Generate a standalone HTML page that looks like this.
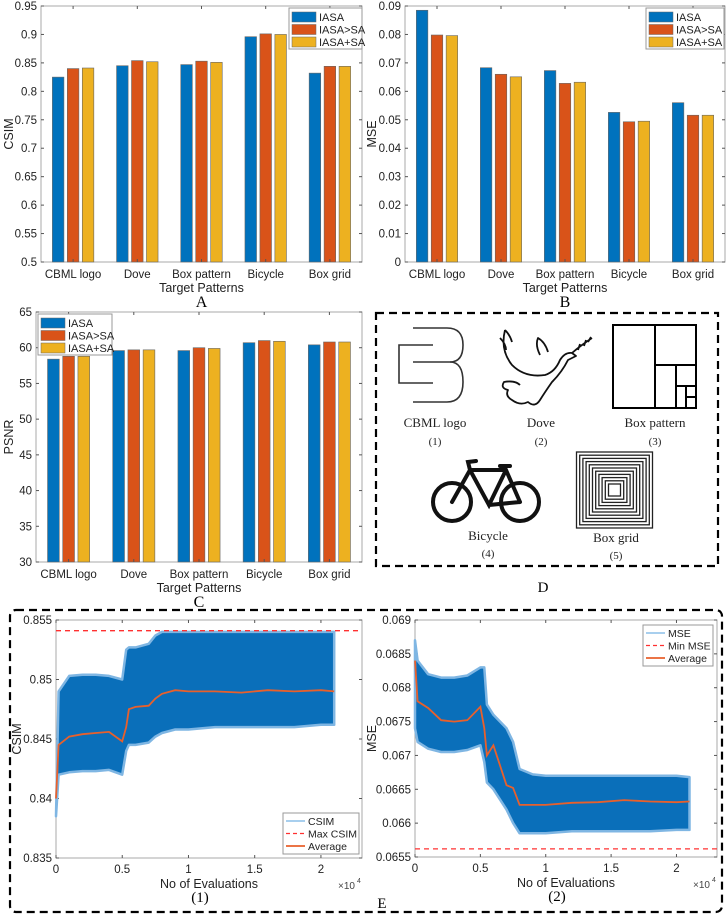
<!DOCTYPE html>
<html><head><meta charset="utf-8">
<style>
body{margin:0;background:#fff;}
svg{display:block;font-family:"Liberation Sans",sans-serif;}
.serif{font-family:"Liberation Serif",serif;}
</style></head>
<body>
<svg id="fig" width="726" height="916" viewBox="0 0 726 916" xmlns="http://www.w3.org/2000/svg">
<g id="pA"></g>
<g id="pB"></g>
<g id="pC"></g>
<g id="pD">
  <rect x="376" y="313" width="342" height="253" fill="none" stroke="#000" stroke-width="2.2" stroke-dasharray="8,5"/>
  <g fill="none" stroke="#333" stroke-width="1.6">
    <path d="M413,328 H447 Q463,328 463,345 Q463,362 450,362 H413"/>
    <path d="M450,362 Q463,362 463,382 Q463,402 447,402 H413"/>
    <path d="M433,345 H399 V383 H433"/>
  </g>
  <g fill="none" stroke="#111" stroke-width="1.8" stroke-linejoin="round">
    <path d="M505,330 Q500,350 512,365 Q525,378 545,375 Q555,372 560,360 Q565,352 572,353 L576,356 L568,360 Q562,372 552,382 Q545,392 540,400 Q535,408 528,402 Q520,406 512,400 Q505,396 508,390 Q500,388 504,382 Q515,380 520,385"/>
    <path d="M505,330 Q510,335 512,342 M500,338 Q506,344 506,350 M540,355 Q535,345 538,338 Q545,342 548,352"/>
    <path d="M572,353 Q580,346 592,338 M578,350 L580,344 M584,346 L586,340 M588,342 L591,337"/>
  </g>
  <g fill="none" stroke="#000" stroke-width="2">
    <rect x="613" y="325" width="83" height="83"/>
    <line x1="655" y1="325" x2="655" y2="408"/>
    <line x1="655" y1="365" x2="696" y2="365"/>
    <line x1="676" y1="365" x2="676" y2="408"/>
    <line x1="676" y1="386" x2="696" y2="386"/>
    <line x1="686" y1="386" x2="686" y2="408"/>
    <line x1="686" y1="397" x2="696" y2="397"/>
  </g>
  <g fill="none" stroke="#111" stroke-width="4" stroke-linecap="round">
    <circle cx="452" cy="502" r="19"/>
    <circle cx="520" cy="502" r="19"/>
    <path d="M452,502 L470,470 L506,470 L520,502 M470,470 L489,505 L506,470 M489,505 L520,502 M470,470 L468,462 L476,461 M500,466 L510,466"/>
  </g>
  <g id="boxgrid" fill="none" stroke="#222" stroke-width="1.3"></g>
  <g class="serif" font-size="13" text-anchor="middle" fill="#222">
    <text x="435" y="427">CBML logo</text>
    <text x="435" y="445" font-size="11">(1)</text>
    <text x="541" y="427">Dove</text>
    <text x="541" y="445" font-size="11">(2)</text>
    <text x="655" y="427">Box pattern</text>
    <text x="655" y="445" font-size="11">(3)</text>
    <text x="488" y="540">Bicycle</text>
    <text x="488" y="557" font-size="11">(4)</text>
    <text x="616" y="542">Box grid</text>
    <text x="616" y="559" font-size="11">(5)</text>
  </g>
  <text x="543" y="592" class="serif" font-size="15" text-anchor="middle">D</text>
</g>
<g id="pE">
  <rect x="10" y="610" width="712" height="302" rx="6" fill="none" stroke="#000" stroke-width="2.2" stroke-dasharray="8,5"/>
  <text x="382" y="908" class="serif" font-size="15" text-anchor="middle">E</text>
</g>
<g id="pE1"></g>
<g id="pE2"></g>
</svg>
<script>
const NS='http://www.w3.org/2000/svg';
function mk(parent,tag,attrs,text){const e=document.createElementNS(NS,tag);for(const k in attrs)e.setAttribute(k,attrs[k]);if(text!==undefined)e.textContent=text;parent.appendChild(e);return e;}

// ---------- Bar chart data ----------
const categories=['CBML logo','Dove','Box pattern','Bicycle','Box grid'];
const seriesNames=['IASA','IASA>SA','IASA+SA'];
const csimIASA=[0.825,0.845,0.847,0.896,0.832];
const csimIASAthenSA=[0.840,0.854,0.853,0.901,0.844];
const csimIASAplusSA=[0.841,0.852,0.851,0.900,0.844];
const mseIASA=[0.0885,0.0683,0.0673,0.0526,0.0560];
const mseIASAthenSA=[0.0798,0.0660,0.0628,0.0493,0.0516];
const mseIASAplusSA=[0.0796,0.0651,0.0632,0.0495,0.0516];
const psnrIASA=[58.4,59.6,59.6,60.7,60.4];
const psnrIASAthenSA=[58.8,59.7,60.0,61.0,60.8];
const psnrIASAplusSA=[58.8,59.7,59.9,60.9,60.8];
const csimTicks=['0.5','0.55','0.6','0.65','0.7','0.75','0.8','0.85','0.9','0.95'];
const mseTicks=['0','0.01','0.02','0.03','0.04','0.05','0.06','0.07','0.08','0.09'];
const psnrTicks=['30','35','40','45','50','55','60','65'];
const colors=['#0072BD','#D95319','#EDB120'];

function barChart(g,o){
  const {L,R,T,B,ymin,ymax,ticks,series,ylabel,legend,letter,name}=o;
  const y=v=>B-(v-ymin)/(ymax-ymin)*(B-T);
  const gw=(R-L)/categories.length;
  const x=i=>L+gw*(i+0.5);
  mk(g,'rect',{x:L,y:T,width:R-L,height:B-T,fill:'#fff',stroke:'#aaa','stroke-width':1,});
  ticks.forEach(t=>{const v=parseFloat(t),yy=y(v);
    mk(g,'line',{x1:L,x2:L+3,y1:yy,y2:yy,stroke:'#555'});
    mk(g,'line',{x1:R-3,x2:R,y1:yy,y2:yy,stroke:'#555'});
    const tx=mk(g,'text',{x:L-4,y:yy+4,'font-size':11.5,'text-anchor':'end',fill:'#222'},t);
    
    
  });
  series.forEach((s,si)=>{s.forEach((v,i)=>{
    const cx=x(i)+(si-1)*gw*0.233, w=gw*0.18;
    const r=mk(g,'rect',{x:cx-w/2,y:y(v),width:w,height:B-y(v),fill:colors[si],stroke:'#666','stroke-width':0.6});
    
    
  });});
  categories.forEach((c,i)=>{
    mk(g,'line',{x1:x(i),x2:x(i),y1:B,y2:B-3,stroke:'#555'});
    mk(g,'line',{x1:x(i),x2:x(i),y1:T,y2:T+3,stroke:'#555'});
    const tx=mk(g,'text',{x:x(i),y:B+16,'font-size':11.5,'text-anchor':'middle',fill:'#222'},c);
    
    
  });
  const xl=mk(g,'text',{x:(L+R)/2,y:B+30,'font-size':12.5,'text-anchor':'middle',fill:'#222'},'Target Patterns');
  
  
  const yl=mk(g,'text',{x:0,y:0,'font-size':12.5,'text-anchor':'middle',fill:'#222',transform:`translate(${o.ylx},${(T+B)/2}) rotate(-90)`},ylabel);
  
  
  const lt=mk(g,'text',{x:(L+R)/2,y:B+45,'font-size':16,'text-anchor':'middle',class:'serif'},letter);
  
  
  const lg=mk(g,'g',{});
  
  
  mk(lg,'rect',{x:legend.x,y:legend.y,width:legend.w,height:41,fill:'#fff',stroke:'#999'});
  seriesNames.forEach((n,i)=>{
    mk(lg,'rect',{x:legend.x+3,y:legend.y+4+i*12.5,width:24,height:10,fill:colors[i],stroke:'#666','stroke-width':0.5});
    const t=mk(lg,'text',{x:legend.x+30,y:legend.y+13+i*12.5,'font-size':11,fill:'#222'},n);
    
    
  });
}
barChart(document.getElementById('pA'),{L:41,R:362,T:6,B:262,ymin:0.5,ymax:0.95,ticks:csimTicks,series:[csimIASA,csimIASAthenSA,csimIASAplusSA],ylabel:'CSIM',ylx:13,legend:{x:289,y:8,w:73},letter:'A',name:'csim'});
barChart(document.getElementById('pB'),{L:405,R:725,T:6,B:262,ymin:0,ymax:0.09,ticks:mseTicks,series:[mseIASA,mseIASAthenSA,mseIASAplusSA],ylabel:'MSE',ylx:376,legend:{x:646,y:8,w:78},letter:'B',name:'mse'});
barChart(document.getElementById('pC'),{L:36,R:362,T:312,B:562,ymin:30,ymax:65,ticks:psnrTicks,series:[psnrIASA,psnrIASAthenSA,psnrIASAplusSA],ylabel:'PSNR',ylx:13,legend:{x:38,y:314,w:74},letter:'C',name:'psnr'});

// box grid nested squares
(function(){const g=document.getElementById('boxgrid');const cx=614.5,cy=490;
for(let i=0;i<12;i++){const h=38-i*3.2;if(h<3)break;const r=mk(g,'rect',{x:cx-h,y:cy-h,width:2*h,height:2*h});}})();

// ---------- Convergence data (x in units of 1e4 evaluations) ----------
const evalX=[0,0.02,0.1,0.2,0.3,0.4,0.5,0.53,0.55,0.6,0.7,0.75,0.8,0.9,1.0,1.2,1.4,1.6,1.8,2.0,2.1];
const csimAvg=[0.840,0.8445,0.8452,0.8454,0.8455,0.8456,0.8448,0.8460,0.8475,0.8477,0.8478,0.8484,0.8488,0.8491,0.8490,0.8490,0.8489,0.8491,0.8490,0.8491,0.8490];
const csimUpper=[0.8385,0.8490,0.8503,0.8504,0.8504,0.8503,0.8500,0.8525,0.8527,0.8527,0.8530,0.8537,0.8540,0.8540,0.8540,0.8540,0.8540,0.8540,0.8540,0.8540,0.8540];
const csimLower=[0.8385,0.8420,0.8422,0.8423,0.8423,0.8424,0.8420,0.8440,0.8445,0.8445,0.8447,0.8452,0.8455,0.8458,0.8458,0.8460,0.8460,0.8460,0.8460,0.8462,0.8462];
const csimMax=0.8541;
const mseAvg=[0.0684,0.0678,0.06770,0.06752,0.06750,0.06752,0.06772,0.06740,0.06700,0.06715,0.06656,0.06652,0.06627,0.06627,0.06627,0.06630,0.06631,0.06634,0.06632,0.06631,0.06632];
const mseUpper=[0.0687,0.0684,0.06820,0.06815,0.06815,0.06818,0.06830,0.06830,0.06775,0.06760,0.06740,0.06720,0.06680,0.06672,0.06670,0.06670,0.06670,0.06670,0.06670,0.06670,0.06668];
const mseLower=[0.0674,0.0672,0.06710,0.06705,0.06705,0.06708,0.06715,0.06690,0.06660,0.06650,0.06620,0.06600,0.06585,0.06585,0.06585,0.06588,0.06588,0.06588,0.06588,0.06590,0.06590];
const mseMin=0.06562;
const evalTicks=['0','0.5','1','1.5','2'];
const csimEvalTicks=['0.835','0.84','0.845','0.85','0.855'];
const mseEvalTicks=['0.0655','0.066','0.0665','0.067','0.0675','0.068','0.0685','0.069'];

function convChart(g,o){
  const {L,R,T,B,ymin,ymax,ticks,avg,up,lo,ref,ylabel,names,legend,sub}=o;
  const xs=v=>L+v/2.31*(R-L);
  const y=v=>B-(v-ymin)/(ymax-ymin)*(B-T);
  mk(g,'rect',{x:L,y:T,width:R-L,height:B-T,fill:'#fff',stroke:'#aaa'});
  ticks.forEach(t=>{const yy=y(parseFloat(t));
    mk(g,'line',{x1:L,x2:L+3,y1:yy,y2:yy,stroke:'#555'});
    mk(g,'line',{x1:R-3,x2:R,y1:yy,y2:yy,stroke:'#555'});
    const tx=mk(g,'text',{x:L-4,y:yy+4,'font-size':11.5,'text-anchor':'end',fill:'#222'},t);
    
    
  });
  evalTicks.forEach(t=>{const xx=xs(parseFloat(t));
    mk(g,'line',{x1:xx,x2:xx,y1:B,y2:B-3,stroke:'#555'});
    mk(g,'line',{x1:xx,x2:xx,y1:T,y2:T+3,stroke:'#555'});
    const tx=mk(g,'text',{x:xx,y:B+15,'font-size':11.5,'text-anchor':'middle',fill:'#222'},t);
    
    
  });
  let p='';evalX.forEach((v,i)=>{p+=(i?'L':'M')+xs(v).toFixed(1)+','+y(up[i]).toFixed(1);});
  for(let i=evalX.length-1;i>=0;i--)p+='L'+xs(evalX[i]).toFixed(1)+','+y(lo[i]).toFixed(1);
  const band=mk(g,'path',{d:p+'Z',fill:'#0a6fba',stroke:'#7fb6e3','stroke-width':2.5,'stroke-linejoin':'round'});
  
  
  const rl=mk(g,'line',{x1:L,x2:R,y1:y(ref),y2:y(ref),stroke:'#ff3030','stroke-width':1.3,'stroke-dasharray':'5,4'});
  
  
  const al=mk(g,'polyline',{points:evalX.map((v,i)=>xs(v).toFixed(1)+','+y(avg[i]).toFixed(1)).join(' '),fill:'none',stroke:'#E8602C','stroke-width':1.8});
  
  
  const xt=mk(g,'text',{x:(L+R)/2,y:B+30,'font-size':12.5,'text-anchor':'middle',fill:'#222'},'No of Evaluations');
  
  
  const ex=mk(g,'text',{x:R-24,y:B+31,'font-size':10,'fill':'#444'},'×10');
  
  
  mk(g,'text',{x:R-5,y:B+25,'font-size':7,fill:'#444'},'4');
  const yt=mk(g,'text',{x:0,y:0,'font-size':12.5,'text-anchor':'middle',fill:'#222',transform:`translate(${o.ylx},${(T+B)/2}) rotate(-90)`},ylabel);
  
  
  const st=mk(g,'text',{x:sub,y:B+44,'font-size':15,'text-anchor':'middle',class:'serif'},o.subl);
  
  
  const lg=mk(g,'g',{});
  
  
  mk(lg,'rect',{x:legend.x,y:legend.y,width:legend.w,height:41,fill:'#fff',stroke:'#999'});
  const st2=[{stroke:'#8cbfe8',w:1.5,d:''},{stroke:'#ff3030',w:1.3,d:'4,3'},{stroke:'#E8602C',w:1.8,d:''}];
  names.forEach((n,i)=>{const yy=legend.y+8+i*12.5;
    mk(lg,'line',{x1:legend.x+3,x2:legend.x+22,y1:yy,y2:yy,stroke:st2[i].stroke,'stroke-width':st2[i].w,'stroke-dasharray':st2[i].d||'none'});
    const t=mk(lg,'text',{x:legend.x+25,y:yy+4,'font-size':10.5,fill:'#222'},n);
    
    
  });
}
convChart(document.getElementById('pE1'),{L:56,R:362,T:620,B:858,ymin:0.835,ymax:0.855,ticks:csimEvalTicks,avg:csimAvg,up:csimUpper,lo:csimLower,ref:csimMax,ylabel:'CSIM',ylx:21,names:['CSIM','Max CSIM','Average'],legend:{x:283,y:813,w:76},sub:200,subl:'(1)'});
convChart(document.getElementById('pE2'),{L:415,R:717,T:620,B:857,ymin:0.0655,ymax:0.069,ticks:mseEvalTicks,avg:mseAvg,up:mseUpper,lo:mseLower,ref:mseMin,ylabel:'MSE',ylx:376,names:['MSE','Min MSE','Average'],legend:{x:643,y:625,w:70},sub:557,subl:'(2)'});
</script>
</body></html>
